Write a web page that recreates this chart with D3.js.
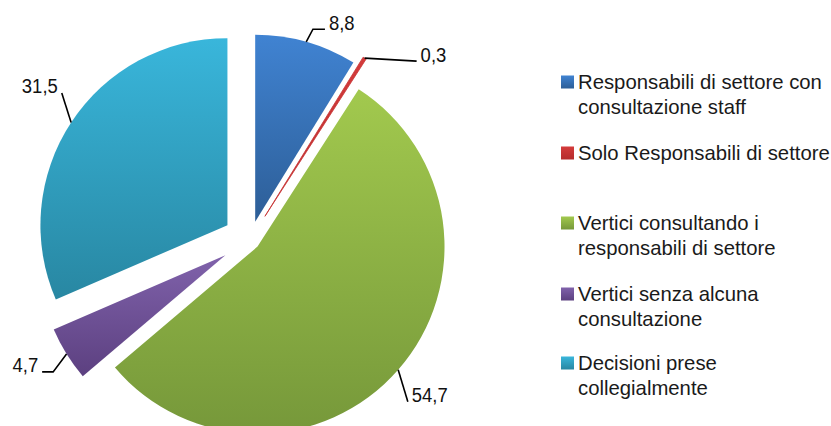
<!DOCTYPE html>
<html>
<head>
<meta charset="utf-8">
<script src="https://cdn.jsdelivr.net/npm/d3@7"></script>
<style>
  html, body { margin: 0; padding: 0; background: #fff; }
  svg { display: block; }
  text { font-family: "Liberation Sans", Arial, sans-serif; }
</style>
</head>
<body>
<svg id="chart" width="831" height="426"></svg>
<script>
// Category names (each entry holds the legend's wrapped lines)
const categories = [
  ["Responsabili di settore con", "consultazione staff"],
  ["Solo Responsabili di settore"],
  ["Vertici consultando i", "responsabili di settore"],
  ["Vertici senza alcuna", "consultazione"],
  ["Decisioni prese", "collegialmente"]
];
// Percent shares
const values = [8.8, 0.3, 54.7, 4.7, 31.5];
// Value labels as printed
const valueLabels = ["8,8", "0,3", "54,7", "4,7", "31,5"];

// Slice fills: gradient from top colour to bottom colour
const colorTop    = ["#4083d2", "#d43b3b", "#a2c94e", "#8062ab", "#39b6db"];
const colorBottom = ["#2d5e97", "#b52c2c", "#76983a", "#5c4080", "#2887a2"];

// Layout
const cx = 250, cy = 240, radius = 187;
const explode = [19, 28, 10, 29, 27];          // distance each slice is pulled out
// Leader lines: elbow as (distance from slice apex, angle in degrees), then tail (dx, dy)
const leaders = [
  { dist: 201, ang: 16.7,  tail: [12, 0],  side: "right" },
  { dist: 187, ang: null,  tail: [52, 3],  side: "right" },
  { dist: 216, ang: 135.9, tail: [0, 0],   side: "right" },
  { dist: 208, ang: 235.9, tail: [-11, 0], side: "left" },
  { dist: 212, ang: 308.6, tail: [0, 0],   side: "left" }
];

const svg = d3.select("#chart");
const defs = svg.append("defs");

colorTop.forEach((c, i) => {
  const g = defs.append("linearGradient")
    .attr("id", "grad" + i)
    .attr("x1", 0).attr("y1", 0).attr("x2", 0).attr("y2", 1);
  g.append("stop").attr("offset", "0%").attr("stop-color", c);
  g.append("stop").attr("offset", "100%").attr("stop-color", colorBottom[i]);
});

const pie = d3.pie().sort(null).startAngle(0).endAngle(2 * Math.PI).value(d => d);
const arcs = pie(values);
const arc = d3.arc().innerRadius(0).outerRadius(radius);

const polar = (a, r) => [Math.sin(a) * r, -Math.cos(a) * r];

const pieG = svg.append("g").attr("transform", `translate(${cx},${cy})`);

// Slices, each pushed out along its mid angle
arcs.forEach((a, i) => {
  const mid = (a.startAngle + a.endAngle) / 2;
  const [ox, oy] = polar(mid, explode[i]);
  const g = pieG.append("g").attr("transform", `translate(${ox},${oy})`);
  g.append("path")
    .attr("d", arc(a))
    .attr("fill", `url(#grad${i})`)
    .attr("stroke", i === 1 ? "#c83232" : "none")
    .attr("stroke-width", i === 1 ? 0.8 : 0);
});

// Narrow the type horizontally so lines keep their set width
function narrow(sel, x, y, sx) {
  sel.attr("transform", `translate(${x},${y}) scale(${sx},1) translate(${-x},${-y})`);
}

// Leader lines and value labels
const labelG = svg.append("g").attr("transform", `translate(${cx},${cy})`);
arcs.forEach((a, i) => {
  const mid = (a.startAngle + a.endAngle) / 2;
  const [ox, oy] = polar(mid, explode[i]);
  const L = leaders[i];
  const start = polar(mid, radius);
  const elbowAng = L.ang === null ? mid : L.ang * Math.PI / 180;
  const elbow = polar(elbowAng, L.dist);
  const p0 = [ox + start[0], oy + start[1]];
  const p1 = [ox + elbow[0], oy + elbow[1]];
  const p2 = [p1[0] + L.tail[0], p1[1] + L.tail[1]];
  labelG.append("path")
    .attr("d", d3.line()([p0, p1, p2]))
    .attr("fill", "none")
    .attr("stroke", "#000")
    .attr("stroke-width", 1.6);
  const tx = L.side === "right" ? p2[0] + 4 : p2[0] - 4;
  const ty = p2[1] + 0.5;
  const t = labelG.append("text")
    .attr("x", tx)
    .attr("y", ty)
    .attr("text-anchor", L.side === "right" ? "start" : "end")
    .attr("font-size", 20.5)
    .attr("fill", "#111")
    .text(valueLabels[i]);
  narrow(t, tx, ty, 0.9);
});

// Legend
const legendX = 561;
const legendY = [82, 153, 223, 294, 363];   // centre of each entry's first line
const lineGap = 25;
const textX = legendX + 17;
const legendWidth = 244;                      // width of the widest first line
const legend = svg.append("g");
const texts = [];
categories.forEach((lines, i) => {
  const y = legendY[i];
  legend.append("rect")
    .attr("x", legendX).attr("y", y - 6.5)
    .attr("width", 13).attr("height", 13)
    .attr("fill", `url(#grad${i})`);
  const t = legend.append("text")
    .attr("x", textX)
    .attr("y", y + 7.5)
    .attr("font-size", 21)
    .attr("fill", "#1a1a1a");
  lines.forEach((ln, k) => {
    t.append("tspan")
      .attr("x", textX)
      .attr("dy", k === 0 ? 0 : lineGap)
      .text(ln);
  });
  texts.push(t);
});
const ref = texts[0].select("tspan").node().getComputedTextLength();
const sx = legendWidth / ref;
texts.forEach(t => narrow(t, textX, 0, sx));
</script>
</body>
</html>
